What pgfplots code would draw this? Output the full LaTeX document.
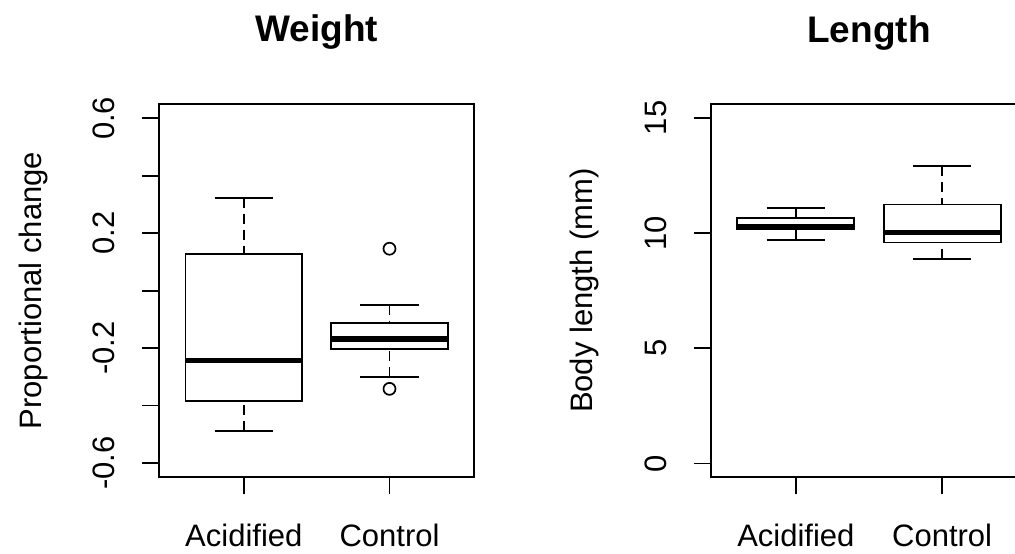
\documentclass[border=0pt]{standalone}
\usepackage{fontspec}
\setmainfont{Liberation Sans}
\usepackage{pgfplots}
\pgfplotsset{compat=1.18}
\pgfplotsset{
  boxline/.style={black, line width=1.9pt, line join=miter, mark=none},
  whisk/.style={black, line width=1.9pt, dash pattern=on 10pt off 6pt, mark=none},
  med/.style={black, line width=5.6pt, mark=none},
  rbox/.style={
    scale only axis,
    height=373.3pt,
    anchor=south west,
    xmin=0.42, xmax=2.58,
    xtick={1,2}, xticklabels={Acidified,Control},
    tick align=outside, tick pos=left,
    major tick length=17pt,
    axis line style={line width=1.8pt},
    every tick/.append style={black, line width=1.8pt},
    /pgf/number format/assume math mode=true,
    tick label style={font=\fontsize{31}{37}\selectfont},
    xticklabel style={anchor=base, yshift=-52pt},
    yticklabel style={xshift=-28pt, rotate=90, anchor=base},
    every axis y label/.style={font=\fontsize{31}{37}\selectfont, at={(axis description cs:-0.375,0.5)}, rotate=90, anchor=base},
    title style={font=\bfseries\fontsize{37}{44}\selectfont, at={(axis description cs:0.5,1.150)}, anchor=base},
  },
}
% \rboxplot{position}{lower whisker}{lower quartile}{median}{upper quartile}{upper whisker}
\newcommand{\rboxplot}[6]{%
  \pgfmathsetmacro\bxl{#1-0.4}\pgfmathsetmacro\bxr{#1+0.4}%
  \pgfmathsetmacro\cpl{#1-0.2}\pgfmathsetmacro\cpr{#1+0.2}%
  \edef\tmpplot{%
    \noexpand\addplot[whisk] coordinates {(#1,#6) (#1,#5)};
    \noexpand\addplot[whisk] coordinates {(#1,#2) (#1,#3)};
    \noexpand\addplot[boxline] coordinates {(\cpl,#6) (\cpr,#6)};
    \noexpand\addplot[boxline] coordinates {(\cpl,#2) (\cpr,#2)};
    \noexpand\addplot[boxline] coordinates {(\bxl,#3) (\bxr,#3) (\bxr,#5) (\bxl,#5) (\bxl,#3) (\bxr,#3)};
    \noexpand\addplot[med] coordinates {(\bxl,#4) (\bxr,#4)};
  }\tmpplot
}
\begin{document}
\begin{tikzpicture}[x=1pt,y=1pt]
\path[use as bounding box] (0,0) rectangle (1015,554);
\clip (0,0) rectangle (1015,554);

\begin{axis}[rbox, at={(159.3pt,76.7pt)}, width=314.7pt,
  ymin=-0.65, ymax=0.65,
  ytick={-0.6,-0.4,-0.2,0,0.2,0.4,0.6},
  yticklabels={-0.6,{},-0.2,{},0.2,{},0.6},
  ylabel={Proportional change},
  title={Weight}]
\rboxplot{1}{-0.489}{-0.383}{-0.243}{0.127}{0.322}
\rboxplot{2}{-0.300}{-0.203}{-0.168}{-0.112}{-0.049}
\addplot[only marks, mark=o, mark size=6pt, line width=1.7pt, black]
  coordinates {(2,0.146) (2,-0.342)};
\end{axis}

\begin{axis}[rbox, at={(711pt,76.7pt)}, width=316pt,
  ymin=-0.6, ymax=15.6,
  ytick={0,5,10,15},
  ylabel={Body length (mm)},
  title={Length}]
\rboxplot{1}{9.68}{10.19}{10.29}{10.65}{11.09}
\rboxplot{2}{8.88}{9.59}{10.03}{11.24}{12.91}
\end{axis}
\end{tikzpicture}
\end{document}
